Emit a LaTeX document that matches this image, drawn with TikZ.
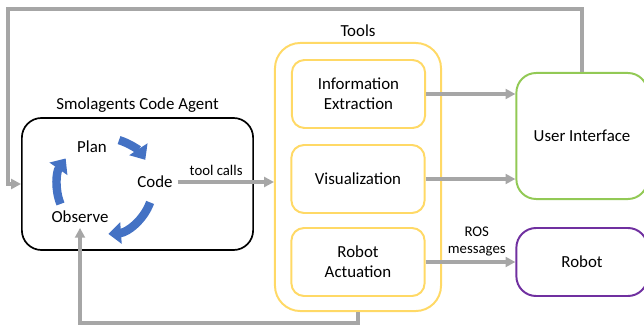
\documentclass[tikz,border=0pt]{standalone}
\usepackage{fontspec}
\setmainfont{Carlito}
\usetikzlibrary{arrows.meta}
\definecolor{flowgray}{HTML}{A6A6A6}
\definecolor{toolyellow}{HTML}{FFD966}
\definecolor{uigreen}{HTML}{92C955}
\definecolor{robotpurple}{HTML}{7030A0}
\definecolor{cycblue}{HTML}{4472C4}
\begin{document}
\begin{tikzpicture}[x=0.025cm, y=-0.025cm, font=\fontsize{12}{14}\selectfont,
          >={Triangle[length=7pt,width=7pt]},
          agentbox/.style={draw=black, rounded corners=14pt, line width=1.2pt},
          toolbox/.style={draw=toolyellow, rounded corners=9pt, line width=1.4pt, align=center,
            minimum width=3.33cm, minimum height=1.7cm},
          sidebox/.style={rounded corners=14pt, line width=1.4pt, align=center, minimum width=3.28cm},
          flow/.style={draw=flowgray, line width=2.2pt, ->},
          cyc/.style={draw=cycblue, line width=6pt, -{Triangle[length=9pt,width=15pt]}},
          note/.style={font=\fontsize{10.5}{12}\selectfont, align=center}]
        % canvas in pixels of the 644x328 reference, y pointing down
        \useasboundingbox (0,0) rectangle (644,328);
        % agent with its loop
        \node[agentbox, minimum width=5.78cm, minimum height=3.3cm] (agent) at (137.5,184) {};
        \node[above] at (agent.north) {Smolagents Code Agent};
        \node (plan) at (92,147) {Plan};
        \node (code) at (155,182) {Code};
        \node (obs) at (80,217) {Observe};
        \foreach \a/\b in {-73/-33, 20/86, 158/215}
          \draw[cyc] (105,186) ++(\a:48) arc[start angle=\a, end angle=\b, radius=48];
        % tools
        \node[draw=toolyellow, rounded corners=18pt, line width=1.4pt, minimum width=4.15cm,
          minimum height=6.7cm] (tools) at (358,177) {};
        \node[above] at (tools.north) {Tools};
        \node[toolbox] (info) at (358.5,94) {Information\\Extraction};
        \node[toolbox] (vis) at (358,179) {Visualization};
        \node[toolbox] (act) at (358,262) {Robot\\Actuation};
        % outputs
        \node[sidebox, draw=uigreen, minimum height=3.15cm] (ui) at (582,136) {User Interface};
        \node[sidebox, draw=robotpurple, minimum height=1.7cm] (robot) at (582,262) {Robot};
        % connectors
        \coordinate (topleft) at (8,9);
        \coordinate (botleft) at (80,323);
        \draw[flow] (code.east) -- (code.east -| tools.west) node[note, above, pos=0.4] {tool calls};
        \draw[flow] (info.east) -- (info.east -| ui.west);
        \draw[flow] (vis.east) -- (vis.east -| ui.west);
        \draw[flow] (act.east) -- (act.east -| robot.west) node[note, above, pos=0.57] {ROS\\messages};
        \draw[flow] (ui.north) |- (topleft) |- (agent.west);
        \draw[flow] (tools.south) |- (botleft) -- (obs.south);
      \end{tikzpicture}
\end{document}
